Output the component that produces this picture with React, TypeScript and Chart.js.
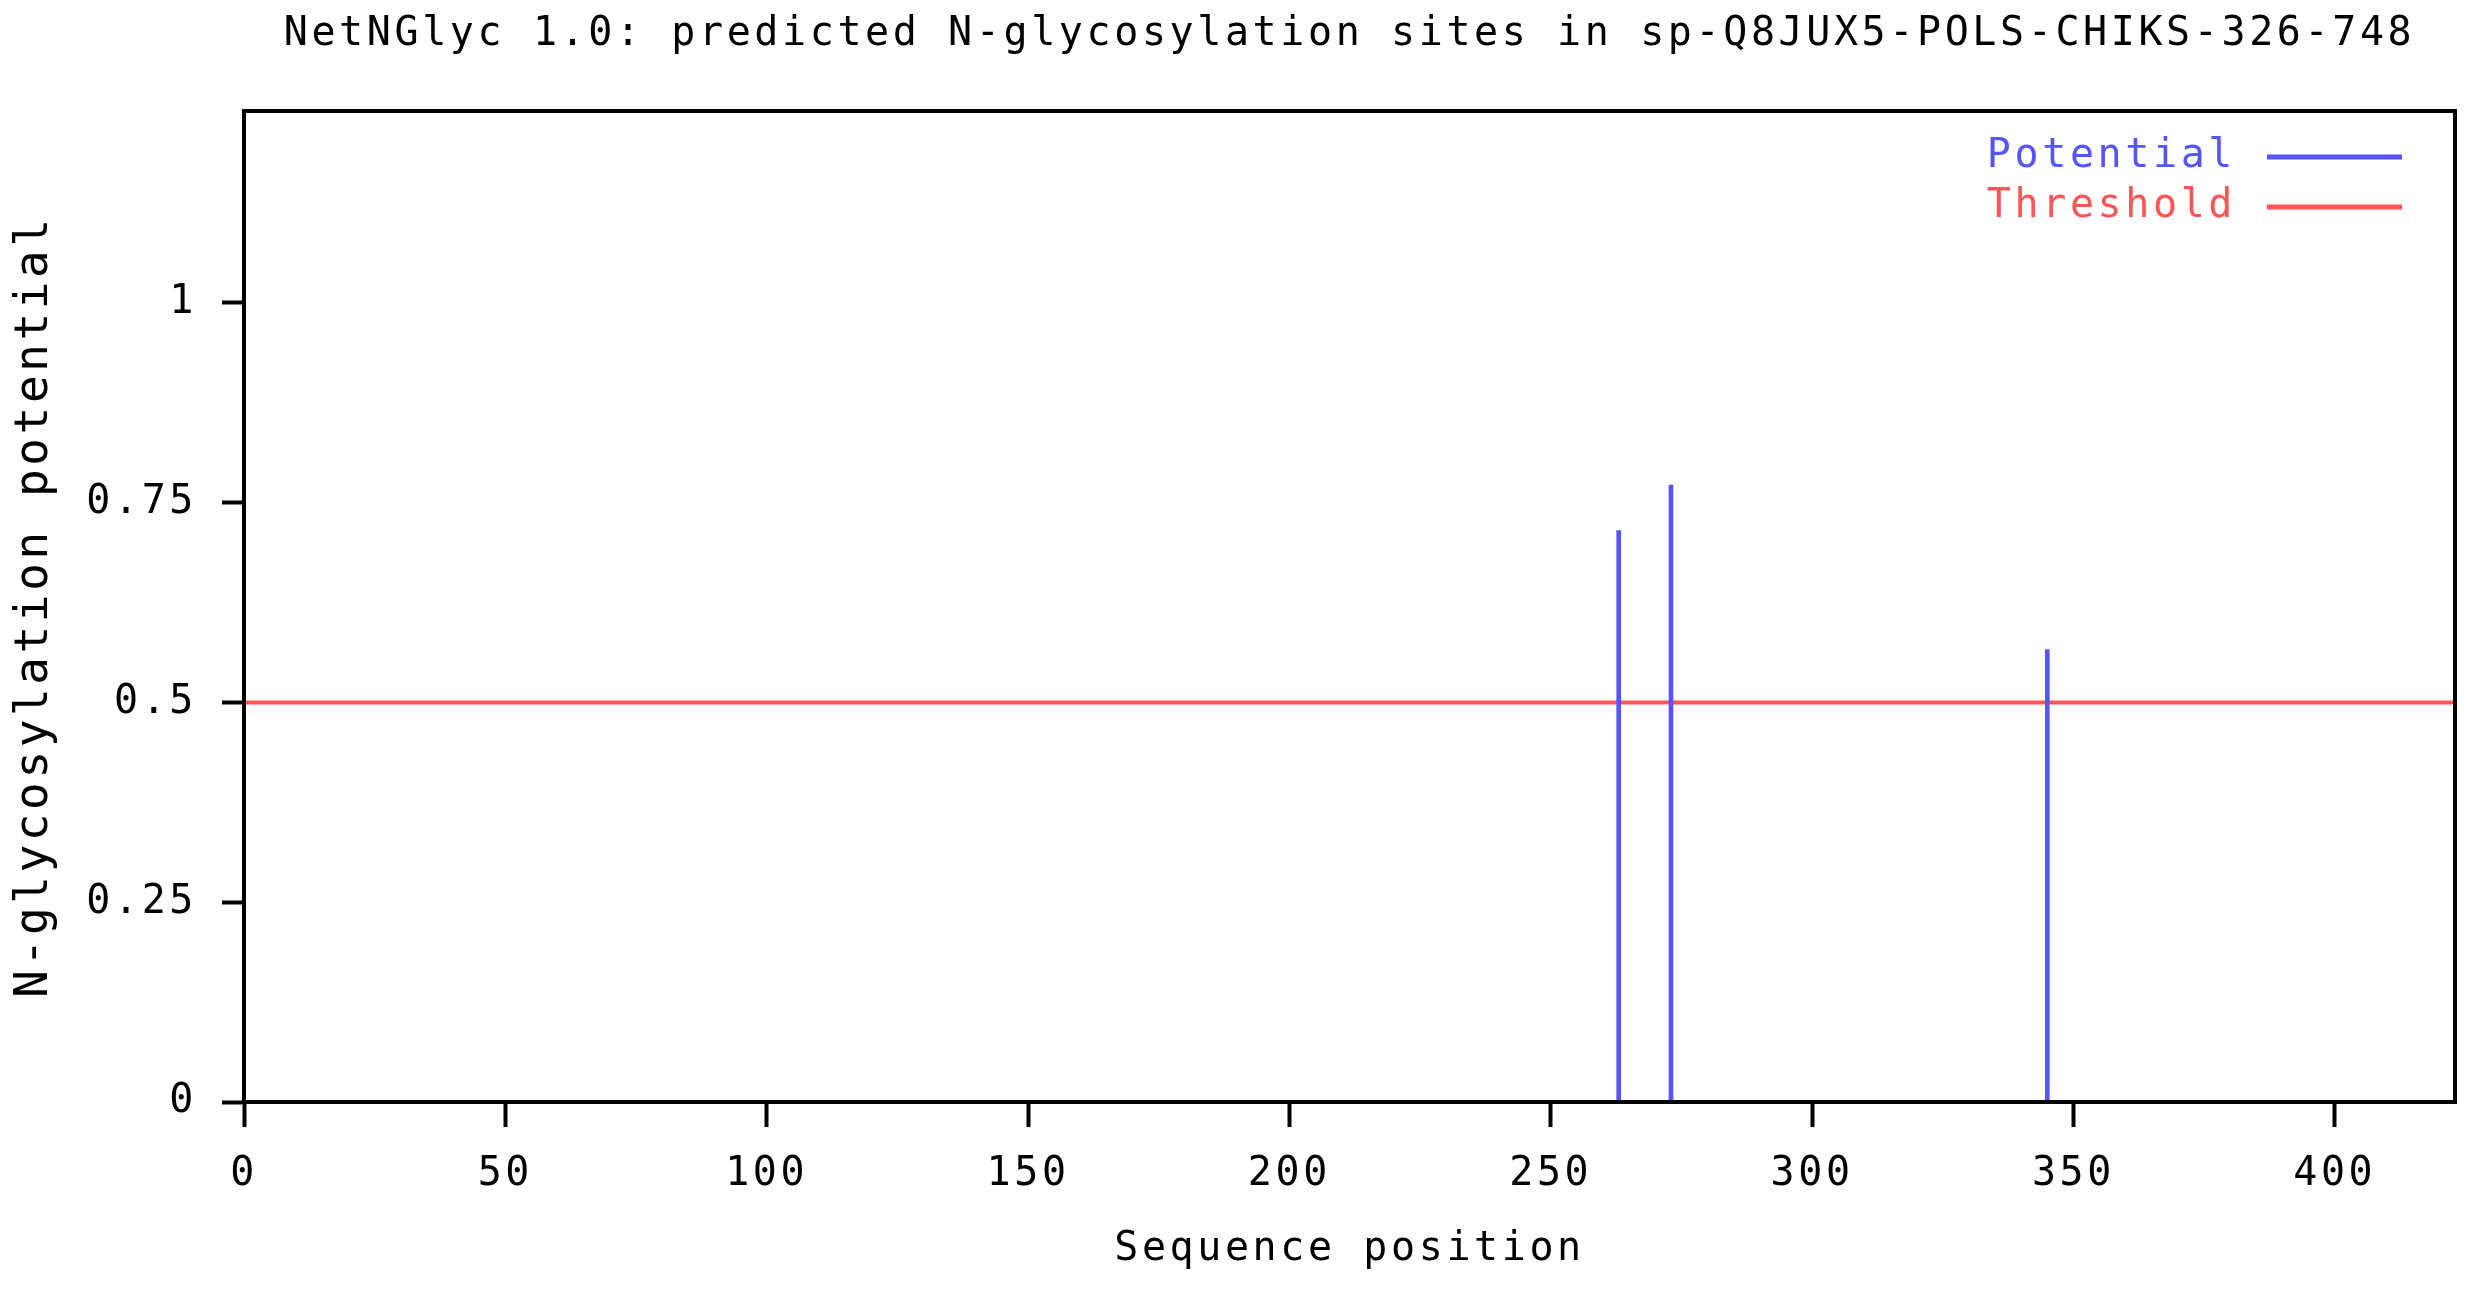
import React, { useEffect, useRef } from "react";
import { Chart, registerables } from "chart.js";

Chart.register(...registerables);

const TITLE = "NetNGlyc 1.0: predicted N-glycosylation sites in sp-Q8JUX5-POLS-CHIKS-326-748";
const X_TITLE = "Sequence position";
const Y_TITLE = "N-glycosylation potential";

const SEQ_LENGTH = 423;
const Y_MAX = 1.24;

const sitePositions = [263, 273, 345];
const siteScores = [0.715, 0.772, 0.566];
const thresholdValue = 0.5;

const xTickValues = [0, 50, 100, 150, 200, 250, 300, 350, 400];
const yTickValues = [0, 0.25, 0.5, 0.75, 1];

const legendLabels = ["Potential", "Threshold"];

const BLUE = "rgb(85,85,255)";
const RED = "rgb(255,85,85)";
const FONT = '"DejaVu Sans Mono", "Liberation Mono", monospace';
const SPACING = "3.6px";

const spacingPlugin = {
  id: "letterSpacing",
  beforeUpdate(chart: any) {
    chart.ctx.letterSpacing = SPACING;
  },
  beforeLayout(chart: any) {
    chart.ctx.letterSpacing = SPACING;
  },
  beforeDraw(chart: any) {
    chart.ctx.letterSpacing = SPACING;
  },
};

const framePlugin = {
  id: "frameAndLegend",
  afterDraw(chart: any) {
    const { ctx, chartArea } = chart;
    ctx.save();
    ctx.strokeStyle = "#000";
    ctx.lineWidth = 4;
    ctx.strokeRect(chartArea.left, chartArea.top, chartArea.right - chartArea.left, chartArea.bottom - chartArea.top);

    const colors = [BLUE, RED];
    ctx.font = `40px ${FONT}`;
    ctx.letterSpacing = SPACING;
    ctx.textAlign = "right";
    ctx.textBaseline = "middle";
    legendLabels.forEach((label, i) => {
      const y = chartArea.top + 46 + i * 50;
      ctx.fillStyle = colors[i];
      ctx.fillText(label, chartArea.right - 219, y);
      ctx.strokeStyle = colors[i];
      ctx.lineWidth = 5;
      ctx.beginPath();
      ctx.moveTo(chartArea.right - 188, y);
      ctx.lineTo(chartArea.right - 53, y);
      ctx.stroke();
    });
    ctx.restore();
  },
};

export default function App() {
  const canvasRef = useRef<HTMLCanvasElement | null>(null);

  useEffect(() => {
    const canvas = canvasRef.current;
    if (!canvas) return;
    Chart.defaults.font.family = FONT;
    Chart.defaults.color = "#000";

    const chart = new Chart(canvas, {
      type: "bar",
      data: {
        datasets: [
          {
            type: "bar",
            label: legendLabels[0],
            data: sitePositions.map((p, i) => ({ x: p, y: siteScores[i] })),
            backgroundColor: BLUE,
            borderWidth: 0,
            barThickness: 4,
            order: 0,
          } as any,
          {
            type: "line",
            label: legendLabels[1],
            data: [
              { x: 0, y: thresholdValue },
              { x: SEQ_LENGTH, y: thresholdValue },
            ],
            borderColor: RED,
            borderWidth: 4,
            pointRadius: 0,
            order: 1,
          } as any,
        ],
      },
      options: {
        responsive: false,
        animation: false,
        devicePixelRatio: 1,
        layout: { padding: { left: 0, right: 24, top: 0, bottom: 0 } },
        plugins: {
          legend: { display: false },
          tooltip: { enabled: false },
          title: {
            display: true,
            text: TITLE,
            fullSize: false,
            color: "#000",
            font: { size: 40, weight: "normal" as any, family: FONT },
            padding: { top: 11, bottom: 52 },
          },
        },
        scales: {
          x: {
            type: "linear",
            min: 0,
            max: SEQ_LENGTH,
            offset: false,
            afterFit: (s: any) => {
              s.height = 190;
            },
            afterBuildTicks: (s: any) => {
              s.ticks = xTickValues.map((v) => ({ value: v }));
            },
            grid: {
              offset: false,
              drawOnChartArea: false,
              drawTicks: true,
              tickLength: 25,
              tickWidth: 4,
              tickColor: "#000",
            },
            border: { display: true, color: "#000", width: 4 },
            ticks: {
              color: "#000",
              font: { size: 40, family: FONT },
              padding: 24,
              maxRotation: 0,
              autoSkip: false,
              callback: (v: any) => String(v),
            },
            title: {
              display: true,
              text: X_TITLE,
              color: "#000",
              font: { size: 40, family: FONT },
              padding: { top: 0, bottom: 18 },
            },
          },
          y: {
            type: "linear",
            min: 0,
            max: Y_MAX,
            afterFit: (s: any) => {
              s.width = 244;
            },
            afterBuildTicks: (s: any) => {
              s.ticks = yTickValues.map((v) => ({ value: v }));
            },
            grid: {
              drawOnChartArea: false,
              drawTicks: true,
              tickLength: 22,
              tickWidth: 4,
              tickColor: "#000",
            },
            border: { display: true, color: "#000", width: 4 },
            ticks: {
              color: "#000",
              font: { size: 40, family: FONT },
              padding: 25,
              callback: (v: any) => String(v),
            },
            title: {
              display: true,
              text: Y_TITLE,
              color: "#000",
              font: { size: 46, family: FONT },
              padding: { top: 7.4, bottom: 0 },
            },
          },
        },
      },
      plugins: [spacingPlugin, framePlugin],
    });

    return () => chart.destroy();
  }, []);

  return (
    <div style={{ position: "fixed", left: 0, top: 0, width: 2479, height: 1292, background: "#fff" }}>
      <canvas ref={canvasRef} width={2479} height={1292} style={{ display: "block" }} />
    </div>
  );
}
